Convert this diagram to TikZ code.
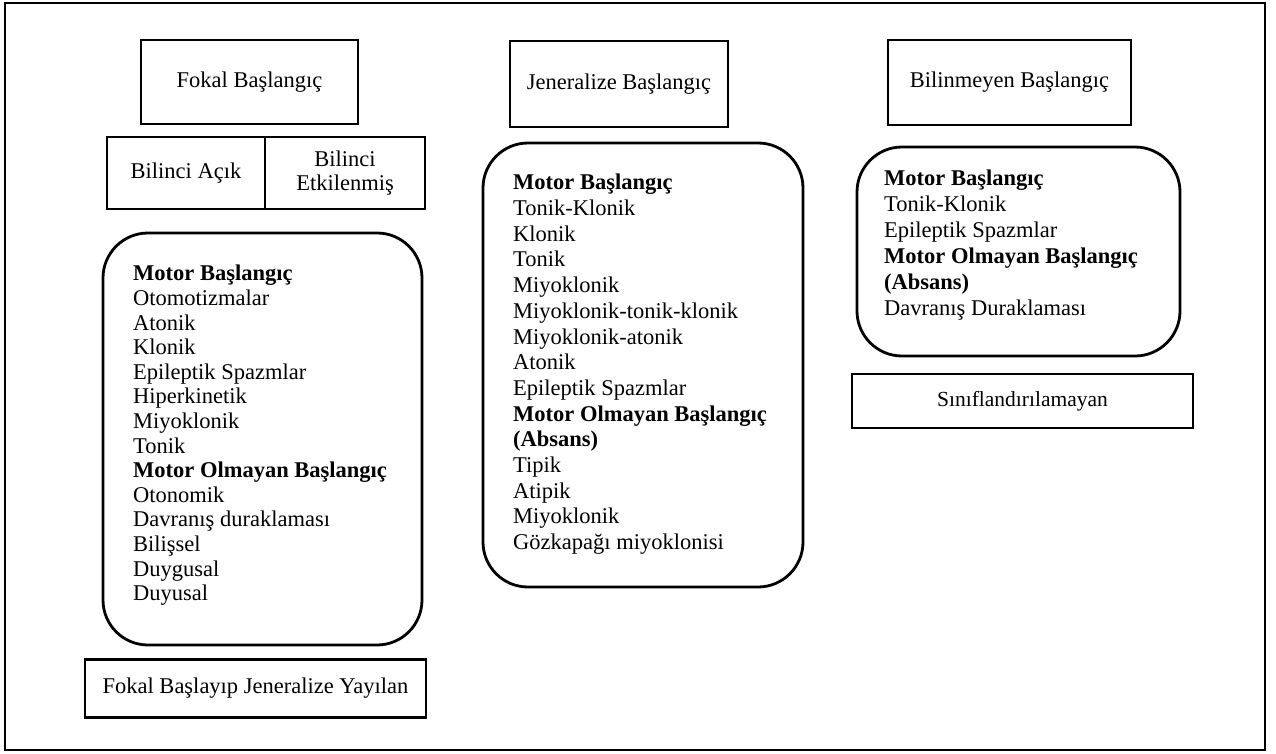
\documentclass[tikz,border=0pt]{standalone}
\usepackage{fontspec}
\setmainfont{Liberation Serif}
\begin{document}
\begin{tikzpicture}[x=1pt,y=-1pt,
  box/.style={draw,line width=2.8pt,inner sep=0pt,align=center,
    font=\fontsize{22.5}{23.5}\selectfont},
  rbox/.style={draw,line width=2.8pt,rounded corners=45pt,inner sep=0pt},
  list/.style={anchor=north west,inner sep=0pt,align=left}]
\useasboundingbox (0,0) rectangle (1276,754);
\node[draw,line width=2.8pt,minimum width=1260pt,minimum height=747pt,inner sep=0pt] (frame) at (635,376.5) {};
% left column
\node[box,minimum width=217pt,minimum height=84pt] (fokal) at (249.5,82) {Fokal Başlangıç};
\node[box,minimum width=158pt,minimum height=72pt] (acik) at (186,173) {Bilinci Açık};
\node[box,minimum width=160pt,minimum height=72pt] (etk) at (345,173) {Bilinci\\Etkilenmiş};
\node[rbox,minimum width=319pt,minimum height=412pt] (lbox) at (262.5,439) {};
\node[list,font=\fontsize{22.5}{24.6}\selectfont] (ltext) at (133,265) {\textbf{Motor Başlangıç}\\
Otomotizmalar\\
Atonik\\
Klonik\\
Epileptik Spazmlar\\
Hiperkinetik\\
Miyoklonik\\
Tonik\\
\textbf{Motor Olmayan Başlangıç}\\
Otonomik\\
Davranış duraklaması\\
Bilişsel\\
Duygusal\\
Duyusal};
\node[box,minimum width=341pt,minimum height=58pt] (yay) at (255.5,688.5) {Fokal Başlayıp Jeneralize Yayılan};
% middle column
\node[box,minimum width=218pt,minimum height=86pt] (jen) at (619,84) {Jeneralize Başlangıç};
\node[rbox,minimum width=320pt,minimum height=444pt] (mbox) at (643,365) {};
\node[list,font=\fontsize{22.5}{25.7}\selectfont] (mtext) at (513,174) {\textbf{Motor Başlangıç}\\
Tonik-Klonik\\
Klonik\\
Tonik\\
Miyoklonik\\
Miyoklonik-tonik-klonik\\
Miyoklonik-atonik\\
Atonik\\
Epileptik Spazmlar\\
\textbf{Motor Olmayan Başlangıç}\\
\textbf{(Absans)}\\
Tipik\\
Atipik\\
Miyoklonik\\
Gözkapağı miyoklonisi};
% right column
\node[box,minimum width=243pt,minimum height=85pt] (bil) at (1009.5,82.5) {Bilinmeyen Başlangıç};
\node[rbox,minimum width=323pt,minimum height=209pt] (rbox) at (1018.5,251.5) {};
\node[list,font=\fontsize{22.5}{26}\selectfont] (rtext) at (884,170) {\textbf{Motor Başlangıç}\\
Tonik-Klonik\\
Epileptik Spazmlar\\
\textbf{Motor Olmayan Başlangıç}\\
\textbf{(Absans)}\\
Davranış Duraklaması};
\node[box,minimum width=341pt,minimum height=54pt,font=\fontsize{21.5}{23}\selectfont] (sinif) at (1022.5,401) {Sınıflandırılamayan};
\end{tikzpicture}
\end{document}
